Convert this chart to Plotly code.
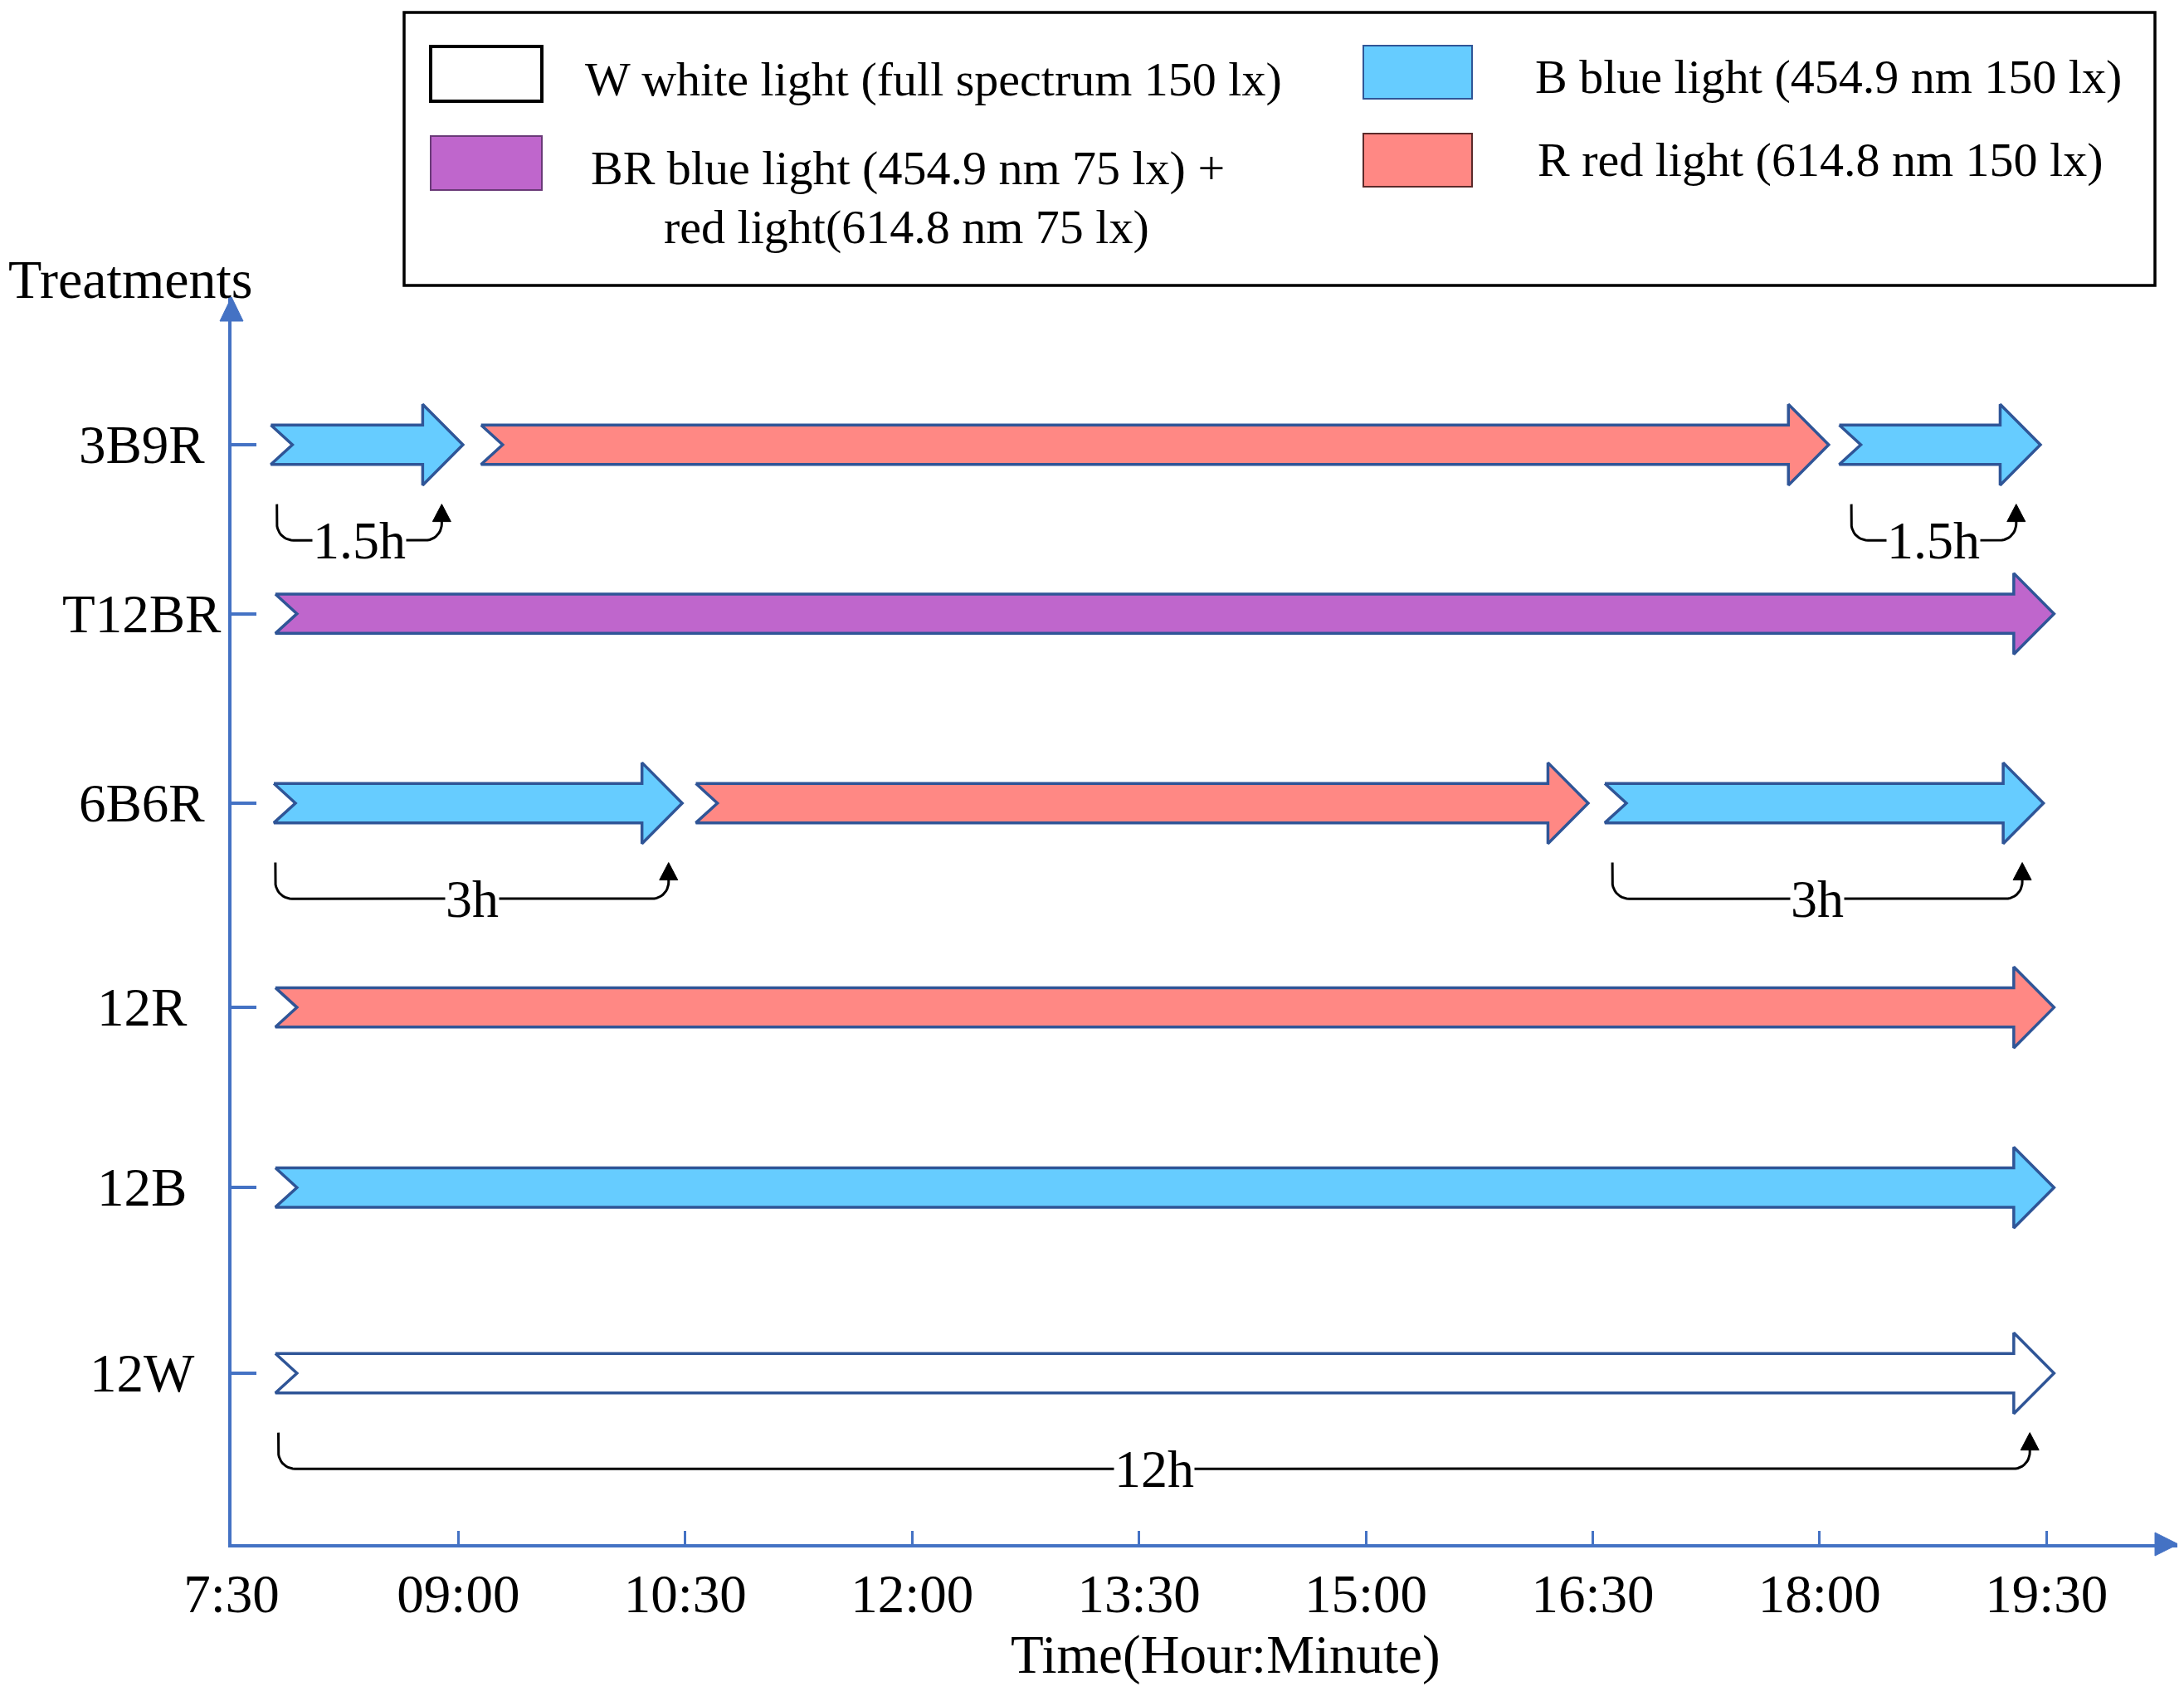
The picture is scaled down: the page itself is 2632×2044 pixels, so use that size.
import numpy as np
import plotly.graph_objects as go

# ---------------- data ----------------
treatments = ["12W", "12B", "12R", "6B6R", "T12BR", "3B9R"]   # bottom -> top

seg_treatment = ["3B9R", "3B9R", "3B9R", "T12BR", "6B6R", "6B6R", "6B6R", "12R", "12B", "12W"]
seg_light = ["B", "R", "B", "BR", "B", "R", "B", "R", "B", "W"]
seg_start = [7.76, 9.15, 18.13, 7.79, 7.78, 10.57, 16.58, 7.79, 7.79, 7.79]
seg_end = [9.03, 18.06, 19.46, 19.55, 10.48, 16.47, 19.48, 19.55, 19.55, 19.55]

brk_treatment = ["3B9R", "3B9R", "6B6R", "6B6R", "12W"]
brk_start = [7.80, 18.21, 7.79, 16.63, 7.81]
brk_end = [8.89, 19.30, 10.39, 19.34, 19.39]
brk_label = ["1.5h", "1.5h", "3h", "3h", "12h"]

time_ticks = [7.5, 9.0, 10.5, 12.0, 13.5, 15.0, 16.5, 18.0, 19.5]
time_labels = ["7:30", "09:00", "10:30", "12:00", "13:30", "15:00", "16:30", "18:00", "19:30"]

legend_keys = ["W", "BR", "B", "R"]
legend_text = [
    ["W white light (full spectrum 150 lx)"],
    ["BR blue light (454.9 nm 75 lx) +", "red light(614.8 nm 75 lx)"],
    ["B blue light (454.9 nm 150 lx)"],
    ["R red light (614.8 nm 150 lx)"],
]

# ---------------- style / layout ----------------
FILL = {"W": "#FFFFFF", "B": "#66CCFF", "R": "#FF8884", "BR": "#BF66CC"}
SWATCH_LINE = {"W": "#000000", "B": "#2F5597", "R": "#5A2A2A", "BR": "#6A3A78"}
OUTLINE = "#2F5597"
AXIS = "#4472C4"
FONT = "Liberation Serif"

# row placement on the treatment axis (axis layout, bottom -> top)
ROW_POS = [0.0, 1.0, 1.97, 3.07, 4.09, 5.0]

W, H = 2632, 2044
PAGE_OFF = 8   # page body margin compensation
ML, MR, MT, MB = 279, 8, 358, 183
PW, PH = W - ML - MR, H - MT - MB
PX_PER_H = 182.27
PX_PER_ROW = 223.8
X_RANGE = [7.5, 7.5 + PW / PX_PER_H]
Y0 = -(H - MB - 1655) / PX_PER_ROW
Y_RANGE = [Y0, Y0 + PH / PX_PER_ROW]


def pxx(x):
    return (x - ML) / PW


def pxy(y):
    return (H - MB - y) / PH


row = {t: p for t, p in zip(treatments, ROW_POS)}

# arrow geometry (data units)
HB = 23.7 / PX_PER_ROW
HH = 48.8 / PX_PER_ROW
NOTCH = 26.0 / PX_PER_H
HEADL = 48.5 / PX_PER_H

fig = go.Figure()

for t, light, s, e in zip(seg_treatment, seg_light, seg_start, seg_end):
    y = row[t]
    xs = [s, e - HEADL, e - HEADL, e, e - HEADL, e - HEADL, s, s + NOTCH, s]
    ys = [y + HB, y + HB, y + HH, y, y - HH, y - HB, y - HB, y, y + HB]
    fig.add_trace(go.Scatter(x=xs, y=ys, mode="lines", fill="toself",
                             fillcolor=FILL[light],
                             line=dict(color=OUTLINE, width=3.5),
                             hoverinfo="skip", showlegend=False))

# duration brackets
BT = 0.32
BB = 0.515
RX = 20 / PX_PER_H
RY = 20 / PX_PER_ROW
AH = 21 / PX_PER_ROW
AW = 11 / PX_PER_H
ang1 = np.linspace(np.pi, 1.5 * np.pi, 12)
ang2 = np.linspace(1.5 * np.pi, 2 * np.pi, 12)
annotations = []
for t, s, e, lab in zip(brk_treatment, brk_start, brk_end, brk_label):
    y = row[t]
    ytop = y - BT
    ybot = y - BB
    xs = [s] + list(s + RX + RX * np.cos(ang1)) + list(e - RX + RX * np.cos(ang2)) + [e]
    ys = [ytop] + list(ybot + RY + RY * np.sin(ang1)) + list(ybot + RY + RY * np.sin(ang2)) + [ytop - AH + 0.005]
    fig.add_trace(go.Scatter(x=xs, y=ys, mode="lines",
                             line=dict(color="black", width=3),
                             hoverinfo="skip", showlegend=False))
    fig.add_trace(go.Scatter(x=[e - AW, e, e + AW, e - AW],
                             y=[ytop - AH, ytop, ytop - AH, ytop - AH],
                             mode="lines", fill="toself", fillcolor="black",
                             line=dict(color="black", width=1),
                             hoverinfo="skip", showlegend=False))
    annotations.append(dict(x=(s + e) / 2, y=ybot, xref="x", yref="y",
                            text=lab, showarrow=False, bgcolor="white",
                            borderpad=0, xanchor="center", yanchor="middle",
                            font=dict(family=FONT, size=64, color="black")))

# treatment labels
for t in treatments:
    annotations.append(dict(x=pxx(171), y=row[t], xref="paper", yref="y",
                            text=t, showarrow=False, xanchor="center", yanchor="middle",
                            font=dict(family=FONT, size=65, color="black")))

annotations.append(dict(x=pxx(157), y=pxy(336), xref="paper", yref="paper",
                        text="Treatments", showarrow=False, xanchor="center",
                        yanchor="middle", font=dict(family=FONT, size=66, color="black")))
annotations.append(dict(x=pxx(1477), y=pxy(1994), xref="paper", yref="paper",
                        text="Time(Hour:Minute)", showarrow=False, xanchor="center",
                        yanchor="middle", font=dict(family=FONT, size=65, color="black")))

shapes = []
# axis arrowheads
shapes.append(dict(type="path", xref="paper", yref="paper",
                   path=f"M {pxx(2597)},{pxy(1847)} L {pxx(2625)},{pxy(1861)} L {pxx(2597)},{pxy(1875)} Z",
                   fillcolor=AXIS, line=dict(color=AXIS, width=1)))
shapes.append(dict(type="path", xref="paper", yref="paper",
                   path=f"M {pxx(265)},{pxy(387)} L {pxx(279)},{pxy(358)} L {pxx(293)},{pxy(387)} Z",
                   fillcolor=AXIS, line=dict(color=AXIS, width=1)))

# legend box
shapes.append(dict(type="rect", xref="paper", yref="paper",
                   x0=pxx(487), x1=pxx(2597), y0=pxy(344), y1=pxy(15),
                   line=dict(color="black", width=3.5), fillcolor="rgba(0,0,0,0)"))

swatch_px = {"W": (519, 653, 56, 122), "BR": (519, 653, 164, 229),
             "B": (1643, 1774, 55, 119), "R": (1643, 1774, 161, 225)}
text_px = {"W": [(703, 95)], "BR": [(710, 203), (798, 273)],
           "B": [(1848, 92)], "R": [(1851, 193)]}
for k, lines in zip(legend_keys, legend_text):
    x0, x1, y0, y1 = swatch_px[k]
    shapes.append(dict(type="rect", xref="paper", yref="paper",
                       x0=pxx(x0), x1=pxx(x1), y0=pxy(y1), y1=pxy(y0),
                       fillcolor=FILL[k],
                       line=dict(color=SWATCH_LINE[k], width=4 if k == "W" else 2)))
    for txt, (tx, ty) in zip(lines, text_px[k]):
        annotations.append(dict(x=pxx(tx), y=pxy(ty), xref="paper", yref="paper",
                                text=txt, showarrow=False, xanchor="left",
                                yanchor="middle",
                                font=dict(family=FONT, size=58, color="black")))

fig.update_layout(
    width=W, height=H,
    margin=dict(l=ML - PAGE_OFF, r=MR + PAGE_OFF, t=MT - PAGE_OFF, b=MB + PAGE_OFF, pad=0),
    paper_bgcolor="white", plot_bgcolor="white",
    showlegend=False,
    shapes=shapes, annotations=annotations,
    font=dict(family=FONT, size=65, color="black"),
)
fig.update_xaxes(range=X_RANGE, showgrid=False, zeroline=False,
                 showline=True, linecolor=AXIS, linewidth=4,
                 ticks="inside", ticklen=16, tickwidth=2.5, tickcolor=AXIS,
                 tickvals=time_ticks, ticktext=time_labels,
                 tickfont=dict(family=FONT, size=65, color="black"))
fig.update_yaxes(range=Y_RANGE, showgrid=False, zeroline=False,
                 showline=True, linecolor=AXIS, linewidth=3.5,
                 ticks="inside", ticklen=30, tickwidth=3.5, tickcolor=AXIS,
                 tickvals=ROW_POS, showticklabels=False)

fig.write_html("out.html")
